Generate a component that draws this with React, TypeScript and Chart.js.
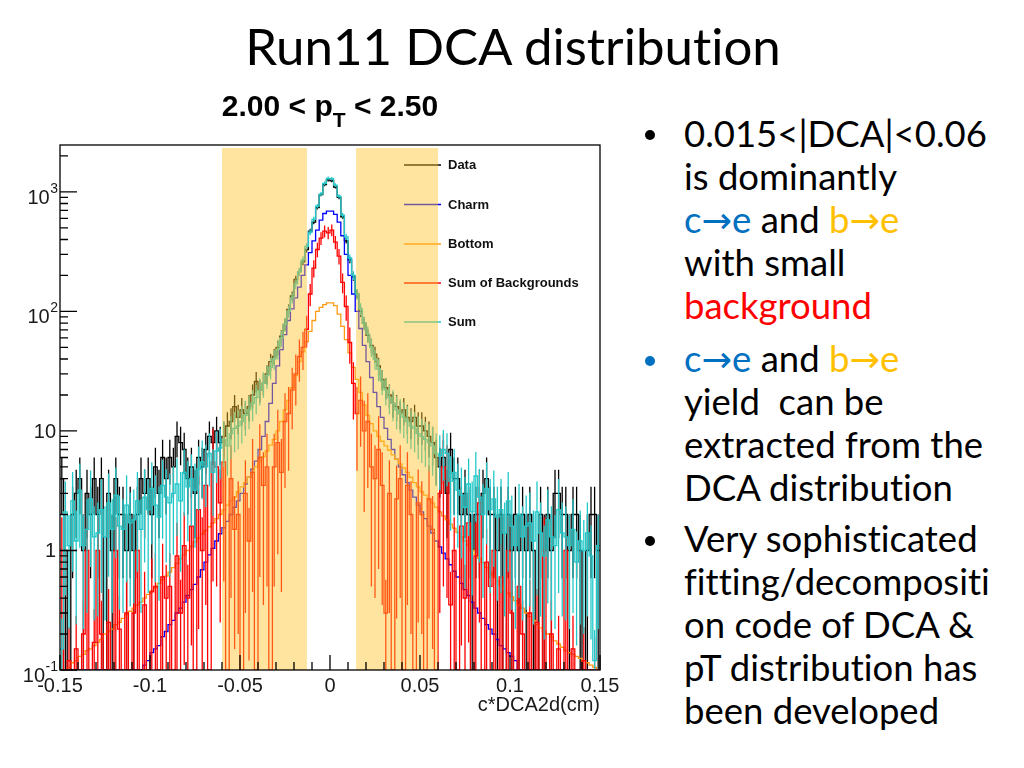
import React, { useEffect, useRef } from "react";
import { Chart, registerables } from "chart.js";

Chart.register(...registerables);

// ---------- axis set-up ----------
const X_MIN = -0.15;
const X_MAX = 0.15;
const BIN_WIDTH = 0.002; // 150 bins
const Y_MIN = 0.1;
const Y_MAX = 2470;
const X_TICK_VALUES = [-0.15, -0.1, -0.05, 0, 0.05, 0.1, 0.15];
const X_TICK_LABELS = ["-0.15", "-0.1", "-0.05", "0", "0.05", "0.1", "0.15"];
const Y_DECADES = [0.1, 1, 10, 100, 1000];
const Y_DECADE_BASES = ["10", "1", "10", "10", "10"];
const Y_DECADE_EXPONENTS = ["-1", "", "", "2", "3"];
const X_TITLE = "c*DCA2d(cm)";
const BANDS = [
  [-0.06, -0.0128],
  [0.0145, 0.06],
];
const BAND_TOP = 2330;

// ---------- series (per 0.002 bin, from -0.15 to 0.15) ----------
const dataCounts = [
  4, 1, 0, 2, 3, 4, 1, 3, 2, 4,
  2, 4, 0, 3, 1, 4, 2, 2, 1, 2,
  1, 2, 4, 3, 4, 2, 5, 3, 6, 4,
  6, 5, 9, 8, 7, 4, 5, 3, 6, 5,
  7, 9, 8, 10, 8, 9, 11, 12, 16, 13,
  15, 14, 16, 20, 26, 22, 25, 30, 38, 42,
  50, 62, 78, 104, 135, 185, 215, 260, 330, 470,
  560, 740, 950, 1150, 1260, 1240, 1100, 900, 620, 390,
  270, 195, 140, 100, 80, 63, 52, 44, 35, 27,
  23, 20, 17, 16, 14, 15, 13, 12, 13, 11,
  11, 10, 9, 8, 6, 5, 6, 3, 7, 4,
  4, 2, 3, 2, 1, 2, 2, 3, 4, 2,
  2, 1, 2, 0, 2, 1, 2, 1, 2, 1,
  2, 1, 0, 2, 1, 2, 1, 3, 3, 2,
  2, 1, 2, 2, 1, 0, 1, 2, 2, 1,
];

const charm = [
  0, 0, 0, 0, 0, 0, 0, 0, 0, 0,
  0, 0, 0, 0, 0, 0, 0, 0, 0, 0,
  0, 0, 0, 0.11, 0.12, 0.14, 0.15, 0.16, 0.19, 0.21,
  0.24, 0.26, 0.3, 0.33, 0.37, 0.42, 0.47, 0.52, 0.6, 0.69,
  0.8, 0.92, 1.04, 1.2, 1.38, 1.55, 1.75, 2.0, 2.3, 2.6,
  3.0, 3.6, 4.1, 4.8, 5.6, 7, 9, 12, 17, 25,
  35, 48, 64, 84, 105, 130, 160, 200, 245, 310,
  390, 480, 580, 660, 690, 690, 650, 560, 430, 300,
  200, 140, 100, 72, 52, 38, 28, 21, 16, 13,
  10.5, 8.5, 7, 5.8, 5, 4.3, 3.7, 3.2, 2.8, 2.4,
  2.1, 1.85, 1.6, 1.4, 1.2, 1.07, 0.95, 0.85, 0.76, 0.67,
  0.6, 0.53, 0.47, 0.42, 0.37, 0.33, 0.3, 0.27, 0.24, 0.22,
  0.2, 0.18, 0.16, 0.15, 0.14, 0.13, 0.12, 0, 0, 0,
  0, 0, 0, 0, 0, 0, 0, 0, 0, 0,
  0, 0, 0, 0, 0, 0, 0, 0, 0, 0,
];

const bottom = [
  0.095, 0.1, 0.105, 0.115, 0.12, 0.13, 0.135, 0.145, 0.15, 0.16,
  0.17, 0.18, 0.2, 0.21, 0.22, 0.24, 0.25, 0.27, 0.29, 0.31,
  0.33, 0.35, 0.37, 0.4, 0.43, 0.46, 0.49, 0.53, 0.57, 0.61,
  0.66, 0.72, 0.78, 0.85, 0.92, 1.0, 1.08, 1.18, 1.27, 1.37,
  1.47, 1.58, 1.7, 1.85, 2.0, 2.2, 2.4, 2.6, 2.8, 3.1,
  3.4, 3.7, 4.1, 4.5, 5.0, 5.6, 6.1, 6.8, 7.6, 8.5,
  10, 12, 15, 18, 23, 29, 38, 46, 56, 68,
  84, 100, 108, 114, 118, 118, 112, 95, 75, 58,
  45, 34, 27, 21, 16.5, 13.5, 11.5, 10, 9, 8.2,
  7.5, 6.9, 6.3, 5.8, 5.3, 4.9, 4.5, 4.1, 3.7, 3.4,
  3.1, 2.9, 2.7, 2.5, 2.3, 2.1, 1.95, 1.8, 1.66, 1.54,
  1.42, 1.3, 1.2, 1.1, 1.0, 0.93, 0.86, 0.79, 0.72, 0.66,
  0.61, 0.56, 0.51, 0.47, 0.44, 0.41, 0.38, 0.35, 0.33, 0.3,
  0.28, 0.26, 0.24, 0.225, 0.21, 0.2, 0.19, 0.175, 0.165, 0.155,
  0.145, 0.14, 0.135, 0.13, 0.125, 0.12, 0.115, 0.11, 0.105, 0.1,
];

const backgrounds = [
  1, 0, 0.12, 0, 0.15, 0, 0.2, 1, 0, 0.17,
  1, 0.2, 0, 0.25, 0, 1, 0.22, 0, 0.3, 0,
  0.3, 1, 0, 0.35, 0, 0.45, 0.5, 0, 0.6, 0.4,
  0.5, 0, 0.9, 0.3, 1.1, 0.4, 1.6, 0, 2.2, 1,
  3.5, 0, 5.5, 5, 2.5, 5.5, 0, 4, 1.5, 2,
  0, 3, 1.2, 4.5, 0, 6, 3.5, 5, 0, 5,
  8, 4.5, 12, 14, 22, 30, 42, 50, 71, 140,
  230, 330, 410, 470, 455, 480, 380, 290, 175, 110,
  55, 25, 14, 18, 10, 12, 5, 4, 7, 3.5,
  0.3, 3, 0, 2.7, 4, 0, 3.5, 2, 0, 2.5,
  2, 0, 2.7, 1.5, 0, 3, 5, 4, 0.35, 1,
  0, 1.6, 0.4, 1.7, 0, 0.9, 2.5, 0, 0.8, 0.5,
  1, 0, 0.6, 0, 1, 0.3, 0, 0.5, 0.2, 0,
  0.3, 0, 0.25, 0, 1, 0, 0.2, 0, 0.15, 0,
  1, 0, 0.15, 0, 0, 0.12, 0, 0, 0.1, 0,
];

const sum = [
  0.15, 2.1, 1.1, 2.6, 1.2, 3.2, 1.1, 1.5, 2.7, 1.3,
  1.4, 2.2, 1.3, 2.5, 1.5, 2.9, 1.6, 1.5, 2.4, 1.7,
  1.8, 2.6, 1.5, 2.8, 2.2, 3.3, 2.4, 1.9, 3.5, 2.8,
  2.5, 3.0, 3.6, 2.6, 4.5, 3.4, 4.0, 3.2, 4.8, 5.5,
  5.0, 6.5, 4.5, 6.8, 7.2, 8.5, 7.5, 9.5, 10.5, 11,
  12, 13.5, 15, 17, 19, 22, 25, 29, 34, 40,
  48, 60, 78, 100, 130, 170, 215, 270, 350, 460,
  590, 760, 960, 1180, 1300, 1290, 1140, 920, 640, 420,
  280, 200, 140, 105, 80, 65, 50, 40, 33, 26,
  22, 19, 17, 15, 14, 13, 12, 11, 10.5, 9.5,
  9, 8.5, 8, 7.5, 6.5, 6.2, 7, 6.5, 3.8, 4.5,
  3.2, 2.9, 2.3, 3.6, 2.1, 4.2, 2.8, 2.0, 3.3, 2.2,
  2.7, 1.9, 2.2, 1.4, 2.6, 1.6, 1.1, 2.0, 1.3, 1.6,
  1.7, 1.2, 2.1, 1.4, 0.9, 1.8, 1.3, 1.1, 2.2, 1.4,
  1.3, 1.1, 1.5, 0.8, 1.2, 1.0, 1.4, 0.9, 0.12, 1.1,
];

const SERIES_LABELS = ["Data", "Charm", "Bottom", "Sum of Backgrounds", "Sum"];
const SERIES_COLORS = ["#000000", "#0000ff", "#ff9a14", "#ff0000", "#22c8c8"];

// ---------- helpers ----------
function histPoints(values: number[]) {
  const pts = values.map((v, i) => ({ x: X_MIN + i * BIN_WIDTH, y: Math.max(v, Y_MIN) }));
  pts.push({ x: X_MAX, y: Math.max(values[values.length - 1], Y_MIN) });
  return pts;
}

function errorBars(values: number[], errOf: (v: number) => number) {
  return values.map((v, i) => {
    const e = v > 0 ? errOf(v) : 0;
    return { x: X_MIN + (i + 0.5) * BIN_WIDTH, lo: v - e, hi: v + e };
  });
}

const SANS = '"Liberation Sans", Arial, Helvetica, sans-serif';

const rootPlugin = {
  id: "rootStyle",
  afterDatasetDraw(chart: any, args: any) {
    const ds = chart.data.datasets[args.index];
    if (!ds.errBars) return;
    const { ctx, chartArea: a, scales } = chart;
    const xs = scales.x;
    const ys = scales.y;
    ctx.save();
    ctx.beginPath();
    ctx.rect(a.left, a.top, a.right - a.left, a.bottom - a.top);
    ctx.clip();
    ctx.strokeStyle = ds.borderColor;
    ctx.lineWidth = ds.borderWidth;
    ctx.beginPath();
    for (const e of ds.errBars) {
      if (!(e.hi > e.lo)) continue;
      const px = xs.getPixelForValue(e.x);
      const top = ys.getPixelForValue(Math.max(e.hi, Y_MIN));
      const bot = e.lo > Y_MIN ? ys.getPixelForValue(e.lo) : a.bottom;
      ctx.moveTo(px, top);
      ctx.lineTo(px, bot);
    }
    ctx.stroke();
    ctx.restore();
  },
  afterDatasetsDraw(chart: any) {
    const { ctx, chartArea: a, scales } = chart;
    const xs = scales.x;
    const ys = scales.y;
    const legendY = [165, 204.5, 244, 283, 322];
    // legend lines (under the bands)
    ctx.save();
    SERIES_LABELS.forEach((_, i) => {
      ctx.strokeStyle = SERIES_COLORS[i];
      ctx.lineWidth = 1.4;
      ctx.beginPath();
      ctx.moveTo(404, legendY[i]);
      ctx.lineTo(441, legendY[i]);
      ctx.stroke();
    });
    // shaded bands
    ctx.fillStyle = "rgba(255,195,45,0.45)";
    for (const [b0, b1] of BANDS) {
      const x0 = xs.getPixelForValue(b0);
      const x1 = xs.getPixelForValue(b1);
      const yt = ys.getPixelForValue(BAND_TOP);
      ctx.fillRect(x0, yt, x1 - x0, a.bottom - yt);
    }
    // legend text
    ctx.fillStyle = "#111";
    ctx.font = `bold 13px ${SANS}`;
    ctx.textAlign = "left";
    ctx.textBaseline = "middle";
    SERIES_LABELS.forEach((lab, i) => {
      ctx.fillText(lab, 448, legendY[i] + 0.5);
    });
    ctx.restore();
  },
  afterDraw(chart: any) {
    const { ctx, chartArea: a, scales } = chart;
    const xs = scales.x;
    const ys = scales.y;
    ctx.save();
    ctx.strokeStyle = "#000";
    ctx.lineWidth = 1.3;
    ctx.strokeRect(a.left, a.top, a.right - a.left, a.bottom - a.top);
    // y ticks
    ctx.beginPath();
    for (const d of Y_DECADES) {
      for (let k = 1; k <= 9; k++) {
        const v = d * k;
        if (v < Y_MIN - 1e-9 || v > Y_MAX) continue;
        const py = ys.getPixelForValue(v);
        const len = k === 1 ? 17 : 8;
        ctx.moveTo(a.left, py);
        ctx.lineTo(a.left + len, py);
      }
    }
    // x ticks
    for (let i = -15; i <= 15; i++) {
      const px = xs.getPixelForValue(i / 100);
      const len = i % 5 === 0 ? 15 : 8;
      ctx.moveTo(px, a.bottom);
      ctx.lineTo(px, a.bottom - len);
    }
    ctx.stroke();
    // x labels
    ctx.fillStyle = "#1a1a1a";
    ctx.font = `20px ${SANS}`;
    ctx.textAlign = "center";
    ctx.textBaseline = "alphabetic";
    X_TICK_VALUES.forEach((v, i) => {
      ctx.fillText(X_TICK_LABELS[i], xs.getPixelForValue(v), a.bottom + 22);
    });
    // y labels
    ctx.textAlign = "right";
    Y_DECADES.forEach((d, i) => {
      const py = ys.getPixelForValue(d);
      const base = Y_DECADE_BASES[i];
      const exp = Y_DECADE_EXPONENTS[i];
      if (exp) {
        ctx.font = `14px ${SANS}`;
        const we = ctx.measureText(exp).width;
        ctx.fillText(exp, 58, py + 1);
        ctx.font = `20px ${SANS}`;
        ctx.fillText(base, 58 - we - 0.5, py + 12);
      } else {
        ctx.font = `20px ${SANS}`;
        ctx.fillText(base, 56, py + 7);
      }
    });
    // x title
    ctx.font = `20px ${SANS}`;
    ctx.textAlign = "right";
    ctx.fillText(X_TITLE, a.right, a.bottom + 41);
    ctx.restore();
  },
};

const BULLET_FS = 36.5;
const BLUE = "#0070C0";
const GOLD = "#FFC000";
const RED = "#FF0000";

function Line({ y, children }: { y: number; children: any }) {
  return (
    <div
      style={{
        position: "absolute",
        left: 684,
        top: y - BULLET_FS * 0.987,
        fontSize: BULLET_FS,
        lineHeight: `${BULLET_FS * 1.2}px`,
        whiteSpace: "pre",
      }}
    >
      {children}
    </div>
  );
}

function Dot({ y, color }: { y: number; color: string }) {
  return (
    <div
      style={{
        position: "absolute",
        left: 645,
        top: y - 5,
        width: 10,
        height: 10,
        borderRadius: "50%",
        background: color,
      }}
    />
  );
}

const Arrow = () => <span style={{ fontFamily: '"DejaVu Sans", sans-serif' }}>→</span>;

function CE() {
  return (
    <span style={{ color: BLUE }}>
      c<Arrow />e
    </span>
  );
}
function BE() {
  return (
    <span style={{ color: GOLD }}>
      b<Arrow />e
    </span>
  );
}

export default function App() {
  const canvasRef = useRef<HTMLCanvasElement>(null);

  useEffect(() => {
    const errFns: any[] = [
      (v: number) => Math.sqrt(v),
      null,
      null,
      (v: number) => Math.min(0.9 * v, 2.5 * Math.sqrt(v)),
      (v: number) => Math.min(0.8 * v, 1.2 * Math.sqrt(v)),
    ];
    const allValues = [dataCounts, charm, bottom, backgrounds, sum];
    const orders = [5, 4, 3, 2, 1];
    const datasets = allValues.map((vals, i) => ({
      label: SERIES_LABELS[i],
      data: histPoints(vals),
      borderColor: SERIES_COLORS[i],
      backgroundColor: SERIES_COLORS[i],
      borderWidth: 1.3,
      pointRadius: 0,
      fill: false,
      stepped: "before",
      tension: 0,
      order: orders[i],
      errBars: errFns[i] ? errorBars(vals, errFns[i]) : null,
    }));

    const chart = new Chart(canvasRef.current as HTMLCanvasElement, {
      type: "line",
      data: { datasets } as any,
      options: {
        animation: false,
        responsive: false,
        devicePixelRatio: 1,
        layout: { padding: { left: 60, top: 145, right: 40, bottom: 98 } },
        scales: {
          x: { type: "linear", min: X_MIN, max: X_MAX, display: false },
          y: { type: "logarithmic", min: Y_MIN, max: Y_MAX, display: false },
        },
        plugins: {
          legend: { display: false },
          tooltip: { enabled: false },
          title: { display: false },
        },
        events: [],
      } as any,
      plugins: [rootPlugin as any],
    });
    return () => chart.destroy();
  }, []);

  return (
    <div
      style={{
        position: "fixed",
        left: 0,
        top: 0,
        width: 1024,
        height: 768,
        background: "#fff",
        overflow: "hidden",
        fontFamily: 'Lato, "Noto Sans", sans-serif',
        fontVariantLigatures: "none",
        color: "#000",
      }}
    >
      <canvas
        ref={canvasRef}
        width={640}
        height={768}
        style={{ position: "absolute", left: 0, top: 0, width: 640, height: 768 }}
      />
      <div
        style={{
          position: "absolute",
          left: 0,
          width: 1026,
          top: 65 - 51 * 0.987,
          textAlign: "center",
          fontSize: 51,
          lineHeight: `${51 * 1.2}px`,
          whiteSpace: "nowrap",
        }}
      >
        Run11 DCA distribution
      </div>
      <div
        style={{
          position: "absolute",
          left: 130,
          width: 400,
          top: 116 - 30 * 0.905,
          textAlign: "center",
          fontFamily: SANS,
          fontWeight: "bold",
          fontSize: 30,
          lineHeight: `${30 * 1.117}px`,
          whiteSpace: "nowrap",
        }}
      >
        2.00 &lt; p<span style={{ fontSize: 21, verticalAlign: "-11px" }}>T</span> &lt; 2.50
      </div>

      <Dot y={135} color="#000" />
      <Line y={148}>0.015&lt;|DCA|&lt;0.06</Line>
      <Line y={191}>is dominantly</Line>
      <Line y={234}>
        <CE /> and <BE />
      </Line>
      <Line y={277}>with small</Line>
      <Line y={320}>
        <span style={{ color: RED }}>background</span>
      </Line>

      <Dot y={361} color={BLUE} />
      <Line y={373}>
        <CE /> and <BE />
      </Line>
      <Line y={416}>yield  can be</Line>
      <Line y={459}>extracted from the</Line>
      <Line y={502}>DCA distribution</Line>

      <Dot y={541} color="#000" />
      <Line y={553}>Very sophisticated</Line>
      <Line y={596}>fitting/decompositi</Line>
      <Line y={639}>on code of DCA &amp;</Line>
      <Line y={682}>pT distribution has</Line>
      <Line y={725}>been developed</Line>
    </div>
  );
}
